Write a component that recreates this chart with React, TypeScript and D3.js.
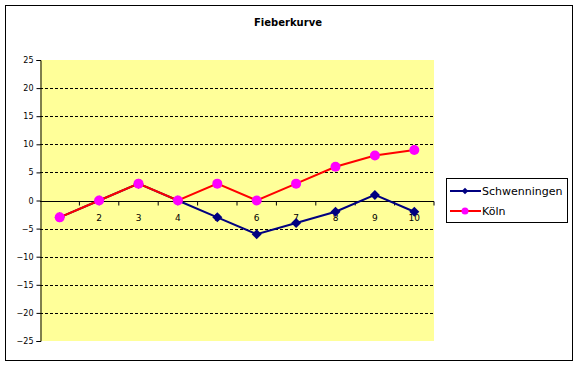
import React, { useEffect, useRef } from "react";
import * as d3 from "d3";

const categories = ["1", "2", "3", "4", "5", "6", "7", "8", "9", "10"];
const schwenningen = [-3, 0, 3, 0, -3, -6, -4, -2, 1, -2];
const koeln = [-3, 0, 3, 0, 3, 0, 3, 6, 8, 9];
const yTicks = [25, 20, 15, 10, 5, 0, -5, -10, -15, -20, -25];

const App = () => {
  const svgRef = useRef<SVGSVGElement>(null);

  useEffect(() => {
    const svg = d3.select(svgRef.current);
    svg.selectAll("*").remove();

    const font = "Tahoma, 'DejaVu Sans', sans-serif";
    const left = 40;
    const right = 434;
    const top = 60;
    const bottom = 341;

    svg
      .append("rect")
      .attr("x", 5.5)
      .attr("y", 5.5)
      .attr("width", 567)
      .attr("height", 355)
      .attr("fill", "white")
      .attr("stroke", "black");

    svg
      .append("text")
      .attr("x", 288)
      .attr("y", 26)
      .attr("text-anchor", "middle")
      .style("font-family", font)
      .style("font-size", "10px")
      .style("font-weight", "bold")
      .text("Fieberkurve");

    const x = d3.scaleBand().domain(categories).range([left, right]);
    const y = d3.scaleLinear().domain([-25, 25]).range([bottom, top]);

    svg
      .append("rect")
      .attr("x", left)
      .attr("y", top)
      .attr("width", right - left)
      .attr("height", bottom - top)
      .attr("fill", "#FFFF99");

    // dashed grid
    svg
      .append("g")
      .selectAll("line")
      .data(yTicks.filter((d) => d !== 0 && d !== 25 && d !== -25))
      .join("line")
      .attr("x1", left)
      .attr("x2", right)
      .attr("y1", (d) => Math.round(y(d)) + 0.5)
      .attr("y2", (d) => Math.round(y(d)) + 0.5)
      .attr("stroke", "black")
      .attr("stroke-dasharray", "3,2");

    // y axis
    const yAxis = svg
      .append("g")
      .attr("transform", `translate(${left + 0.5},0)`)
      .call(d3.axisLeft(y).tickValues(yTicks).tickSize(4).tickPadding(3));
    yAxis.select(".domain").attr("stroke", "black");
    yAxis.selectAll("text").style("font-family", font).style("font-size", "8px");

    // x axis on zero line
    const y0 = Math.round(y(0)) + 0.5;
    const xAxis = svg.append("g").attr("transform", `translate(0,${y0})`);
    xAxis
      .append("line")
      .attr("x1", left)
      .attr("x2", right)
      .attr("stroke", "black");
    xAxis
      .selectAll("line.tick")
      .data(categories.slice(1).concat(["end"]))
      .join("line")
      .attr("class", "tick")
      .attr("x1", (d) => (d === "end" ? right : (x(d) as number)))
      .attr("x2", (d) => (d === "end" ? right : (x(d) as number)))
      .attr("y1", 0)
      .attr("y2", 4)
      .attr("stroke", "black");
    xAxis
      .selectAll("text")
      .data(categories)
      .join("text")
      .attr("x", (d) => (x(d) as number) + x.bandwidth() / 2)
      .attr("y", 19)
      .attr("text-anchor", "middle")
      .style("font-family", font)
      .style("font-size", "9px")
      .text((d) => d);

    const cx = (i: number) => (x(categories[i]) as number) + x.bandwidth() / 2;
    const line = d3
      .line<number>()
      .x((_, i) => cx(i))
      .y((d) => y(d));

    // Schwenningen
    svg
      .append("path")
      .datum(schwenningen)
      .attr("d", line)
      .attr("fill", "none")
      .attr("stroke", "#000080")
      .attr("stroke-width", 2);
    svg
      .append("g")
      .selectAll("path")
      .data(schwenningen)
      .join("path")
      .attr("transform", (d, i) => `translate(${cx(i)},${y(d)}) rotate(45)`)
      .attr("d", d3.symbol().type(d3.symbolSquare).size(50))
      .attr("fill", "#000080");

    // Köln
    svg
      .append("path")
      .datum(koeln)
      .attr("d", line)
      .attr("fill", "none")
      .attr("stroke", "#FF0000")
      .attr("stroke-width", 2);
    svg
      .append("g")
      .selectAll("circle")
      .data(koeln)
      .join("circle")
      .attr("cx", (_, i) => cx(i))
      .attr("cy", (d) => y(d))
      .attr("r", 5)
      .attr("fill", "#FF00FF");

    // legend
    const lg = svg.append("g");
    lg.append("rect")
      .attr("x", 446.5)
      .attr("y", 178.5)
      .attr("width", 121)
      .attr("height", 44)
      .attr("fill", "white")
      .attr("stroke", "black");
    const entries = [
      { name: "Schwenningen", color: "#000080", marker: "diamond" },
      { name: "Köln", color: "#FF0000", marker: "circle" },
    ];
    entries.forEach((e, i) => {
      const ly = 191 + i * 20;
      lg.append("line")
        .attr("x1", 450)
        .attr("x2", 481)
        .attr("y1", ly)
        .attr("y2", ly)
        .attr("stroke", e.color)
        .attr("stroke-width", 2);
      if (e.marker === "diamond") {
        lg.append("path")
          .attr("transform", `translate(465,${ly}) rotate(45)`)
          .attr("d", d3.symbol().type(d3.symbolSquare).size(22))
          .attr("fill", e.color);
      } else {
        lg.append("circle")
          .attr("cx", 465)
          .attr("cy", ly)
          .attr("r", 3.5)
          .attr("fill", "#FF00FF");
      }
      lg.append("text")
        .attr("x", 482)
        .attr("y", ly + 4)
        .style("font-family", font)
        .style("font-size", "11px")
        .text(e.name);
    });
  }, []);

  return (
    <svg
      ref={svgRef}
      width={578}
      height={366}
      style={{ position: "absolute", left: 0, top: 0 }}
    />
  );
};

export default App;
